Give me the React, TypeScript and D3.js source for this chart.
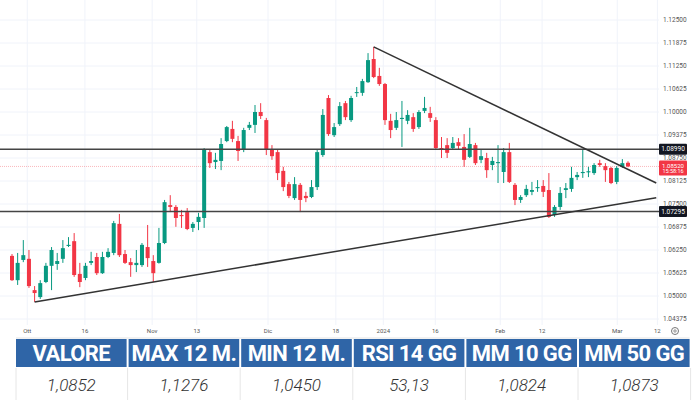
import React from "react";
import * as d3 from "d3";

// ---- DATA ----
const opens = [1.0609,1.0543,1.0598,1.0601,1.0516,1.0497,1.0538,1.0582,1.0587,1.0601,1.0636,1.0649,1.0560,1.0549,1.0590,1.0606,1.0562,1.0606,1.0617,1.0696,1.0614,1.0592,1.0584,1.0584,1.0633,1.0595,1.0590,1.0644,1.0747,1.0742,1.0720,1.0728,1.0685,1.0701,1.0712,1.0891,1.0864,1.0867,1.0921,1.0954,1.0921,1.0897,1.0957,1.0965,1.1000,1.0978,1.0897,1.0891,1.0840,1.0804,1.0766,1.0802,1.0772,1.0769,1.0796,1.0883,1.1038,1.0937,1.0967,1.1024,1.0978,1.1052,1.1052,1.1081,1.1144,1.1098,1.1076,1.0976,1.0957,1.0981,1.0976,1.0986,1.0959,1.1003,1.0997,1.0978,1.0902,1.0910,1.0902,1.0918,1.0905,1.0878,1.0910,1.0870,1.0875,1.0856,1.0861,1.0837,1.0891,1.0802,1.0761,1.0774,1.0783,1.0793,1.0799,1.0788,1.0720,1.0742,1.0788,1.0791,1.0823,1.0834,1.0836,1.0834,1.0861,1.0853,1.0848,1.0810,1.0851,1.0862];
const highs = [1.0614,1.0617,1.0652,1.0625,1.0527,1.0543,1.0590,1.0633,1.0617,1.0652,1.0660,1.0671,1.0590,1.0590,1.0620,1.0617,1.0620,1.0630,1.0704,1.0723,1.0625,1.0603,1.0625,1.0644,1.0693,1.0611,1.0685,1.0761,1.0774,1.0747,1.0734,1.0739,1.0701,1.0726,1.0902,1.0899,1.0889,1.0929,1.0962,1.0976,1.0935,1.0957,1.0973,1.1019,1.1024,1.0984,1.0910,1.0897,1.0851,1.0810,1.0823,1.0807,1.0783,1.0815,1.0897,1.1008,1.1046,1.0970,1.1027,1.1030,1.1044,1.1068,1.1090,1.1160,1.1177,1.1120,1.1079,1.0995,1.1000,1.1030,1.1005,1.0997,1.1005,1.1041,1.1014,1.0986,1.0932,1.0929,1.0932,1.0929,1.0940,1.0957,1.0916,1.0897,1.0889,1.0878,1.0910,1.0902,1.0916,1.0807,1.0774,1.0802,1.0810,1.0815,1.0815,1.0834,1.0747,1.0796,1.0807,1.0851,1.0837,1.0897,1.0851,1.0861,1.0870,1.0861,1.0851,1.0853,1.0872,1.0866];
const lows = [1.0541,1.0530,1.0592,1.0522,1.0484,1.0492,1.0535,1.0516,1.0571,1.0590,1.0633,1.0552,1.0524,1.0543,1.0584,1.0557,1.0560,1.0603,1.0611,1.0606,1.0587,1.0552,1.0565,1.0579,1.0579,1.0538,1.0588,1.0641,1.0728,1.0688,1.0685,1.0679,1.0674,1.0679,1.0685,1.0848,1.0845,1.0842,1.0918,1.0918,1.0867,1.0891,1.0951,1.0943,1.0981,1.0883,1.0870,1.0815,1.0785,1.0766,1.0761,1.0728,1.0755,1.0766,1.0788,1.0878,1.0935,1.0932,1.0962,1.0978,1.0973,1.1041,1.1044,1.1079,1.1092,1.1071,1.0965,1.0929,1.0951,1.0905,1.0967,1.0946,1.0954,1.0997,1.0973,1.0897,1.0875,1.0875,1.0897,1.0897,1.0851,1.0875,1.0856,1.0861,1.0821,1.0842,1.0807,1.0807,1.0807,1.0747,1.0753,1.0769,1.0774,1.0783,1.0769,1.0712,1.0715,1.0734,1.0766,1.0783,1.0815,1.0821,1.0823,1.0829,1.0851,1.0810,1.0804,1.0804,1.0848,1.0850];
const closes = [1.0543,1.0590,1.0611,1.0527,1.0508,1.0535,1.0582,1.0625,1.0595,1.0630,1.0639,1.0557,1.0538,1.0582,1.0595,1.0562,1.0606,1.0620,1.0698,1.0611,1.0590,1.0584,1.0590,1.0639,1.0603,1.0562,1.0644,1.0755,1.0742,1.0712,1.0717,1.0682,1.0696,1.0715,1.0899,1.0861,1.0870,1.0913,1.0959,1.0927,1.0894,1.0951,1.0965,1.1000,1.0989,1.0899,1.0880,1.0834,1.0796,1.0772,1.0804,1.0761,1.0766,1.0796,1.0891,1.0992,1.0940,1.0959,1.1016,1.0986,1.1038,1.1054,1.1084,1.1141,1.1095,1.1076,1.0978,1.0951,1.0978,1.0984,1.0992,1.0954,1.1000,1.1011,1.0984,1.0902,1.0897,1.0889,1.0916,1.0908,1.0870,1.0913,1.0861,1.0880,1.0842,1.0867,1.0864,1.0891,1.0810,1.0761,1.0769,1.0791,1.0788,1.0796,1.0783,1.0715,1.0742,1.0780,1.0793,1.0821,1.0829,1.0837,1.0839,1.0856,1.0856,1.0842,1.0807,1.0848,1.0861,1.0852];

const yTicks = [1.04375,1.05,1.05625,1.0625,1.06875,1.075,1.08125,1.0875,1.09375,1.1,1.10625,1.1125,1.11875,1.125];
const xTickLabels = ["Ott","16","Nov","13","Dic","18","2024","16","Feb","12","Mar","12"];
const xTickIndex = [2.7,12.9,24.8,32.7,45.3,57.3,65.7,74.9,86.4,93.8,107.1,114.2];

const levels = [1.0899, 1.07295];
const levelLabels = ["1.08990", "1.07295"];
const lastPrice = 1.0852;
const lastPriceLabel = "1.08520";
const countdown = "15:58:16";

const trendUpIdx = [4, 114];
const trendUpPrice = [1.0484, 1.0767];
const trendDownIdx = [64, 114];
const trendDownPrice = [1.1177, 1.0807];

const tableHeaders = ["VALORE", "MAX 12 M.", "MIN 12 M.", "RSI 14 GG", "MM 10 GG", "MM 50 GG"];
const tableValues = ["1,0852", "1,1276", "1,0450", "53,13", "1,0824", "1,0873"];

// ---- CHART ----
const UP = "#089981";
const DOWN = "#f23645";

export default function App() {
  const plotRight = 659;
  const x = d3.scaleLinear().domain([0, 109]).range([12, 628]);
  const y = d3.scaleLinear().domain([1.04375, 1.125]).range([319, 20]);
  const bodyW = 4;
  const line = d3.line<[number, number]>().x((d) => x(d[0])).y((d) => y(d[1]));

  const cellX0 = 16;
  const cellStep = 112.6;
  const cellW = 110.6;

  return (
    <svg
      width={700}
      height={400}
      style={{ position: "absolute", left: 0, top: 0, background: "#fff" }}
      fontFamily="Roboto, 'Open Sans', sans-serif"
    >
      <rect x={0} y={0} width={700} height={400} fill="#fff" />
      {/* grid */}
      {yTicks.map((t) => (
        <line key={"gy" + t} x1={0} x2={plotRight} y1={y(t)} y2={y(t)} stroke="#f0f3fa" strokeWidth={1} />
      ))}
      {xTickIndex.map((t, i) => (
        <line key={"gx" + i} x1={x(t)} x2={x(t)} y1={0} y2={325} stroke="#f0f3fa" strokeWidth={1} />
      ))}

      {/* last price line */}
      <line x1={0} x2={plotRight} y1={y(lastPrice)} y2={y(lastPrice)} stroke="#f23645" strokeOpacity={0.35} strokeWidth={1} strokeDasharray="1 1" />

      {/* candles */}
      {opens.map((o, i) => {
        const c = closes[i];
        const up = c >= o;
        const col = up ? UP : DOWN;
        const cx = x(i);
        const top = y(Math.max(o, c));
        const bot = y(Math.min(o, c));
        return (
          <g key={"c" + i}>
            <line x1={cx} x2={cx} y1={y(highs[i])} y2={y(lows[i])} stroke={col} strokeWidth={1} />
            <rect x={cx - bodyW / 2} y={top} width={bodyW} height={Math.max(1, bot - top)} fill={col} />
          </g>
        );
      })}

      {/* horizontal levels */}
      {levels.map((l, i) => (
        <line key={"lv" + i} x1={0} x2={plotRight} y1={y(l)} y2={y(l)} stroke="#444" strokeWidth={1.5} />
      ))}

      {/* trend lines */}
      <path d={line([[trendUpIdx[0], trendUpPrice[0]], [trendUpIdx[1], trendUpPrice[1]]]) || ""} stroke="#333" strokeWidth={1.5} fill="none" />
      <path d={line([[trendDownIdx[0], trendDownPrice[0]], [trendDownIdx[1], trendDownPrice[1]]]) || ""} stroke="#333" strokeWidth={1.5} fill="none" />

      {/* y axis labels */}
      {yTicks.map((t) => (
        <text key={"yl" + t} x={663} y={y(t)} dy="0.35em" fontSize={6.5} fill="#555">
          {t.toFixed(5)}
        </text>
      ))}
      {levels.map((l, i) => (
        <g key={"ll" + i}>
          <rect x={plotRight} y={y(l) - 5.5} width={28} height={11} fill="#131722" rx={1} />
          <text x={plotRight + 14} y={y(l)} dy="0.35em" fontSize={6.5} fill="#fff" textAnchor="middle">
            {levelLabels[i]}
          </text>
        </g>
      ))}
      <g>
        <rect x={plotRight} y={y(lastPrice) - 6} width={28} height={15} fill="#f23645" rx={1} />
        <text x={plotRight + 14} y={y(lastPrice) - 1} dy="0.35em" fontSize={6} fill="#fff" textAnchor="middle">
          {lastPriceLabel}
        </text>
        <text x={plotRight + 14} y={y(lastPrice) + 5} dy="0.35em" fontSize={5.5} fill="#fff" textAnchor="middle">
          {countdown}
        </text>
      </g>

      {/* x axis labels */}
      {xTickLabels.map((lab, i) => (
        <text key={"xl" + i} x={x(xTickIndex[i])} y={331} dy="0.35em" fontSize={6} fill="#555" textAnchor="middle">
          {lab}
        </text>
      ))}
      {/* gear icon */}
      <circle cx={675} cy={331} r={3.5} fill="none" stroke="#777" strokeWidth={1} />
      <circle cx={675} cy={331} r={1.2} fill="none" stroke="#777" strokeWidth={0.8} />

      {/* table */}
      <line x1={cellX0} x2={cellX0 + 5 * cellStep + cellW} y1={338} y2={338} stroke="#e3e3e3" strokeWidth={1} />
      {tableHeaders.map((h, i) => {
        const cx = cellX0 + i * cellStep;
        return (
          <g key={"th" + i}>
            <rect x={cx} y={339} width={cellW} height={28} fill="#2f65a7" />
            <text
              x={cx + cellW / 2}
              y={353.5}
              dy="0.35em"
              fontSize={22}
              fontWeight={700}
              fill="#fff"
              textAnchor="middle"
              letterSpacing={-0.6}
            >
              {h}
            </text>
            <text
              x={cx + cellW / 2}
              y={385}
              dy="0.35em"
              fontSize={17}
              fontStyle="italic"
              fontWeight={300}
              fill="#333"
              textAnchor="middle"
            >
              {tableValues[i]}
            </text>
          </g>
        );
      })}
      {d3.range(7).map((i) => {
        const sx = i === 0 ? cellX0 : cellX0 + i * cellStep - 1;
        return <line key={"sep" + i} x1={sx} x2={sx} y1={368} y2={400} stroke="#e6e6e6" strokeWidth={1} />;
      })}
    </svg>
  );
}
